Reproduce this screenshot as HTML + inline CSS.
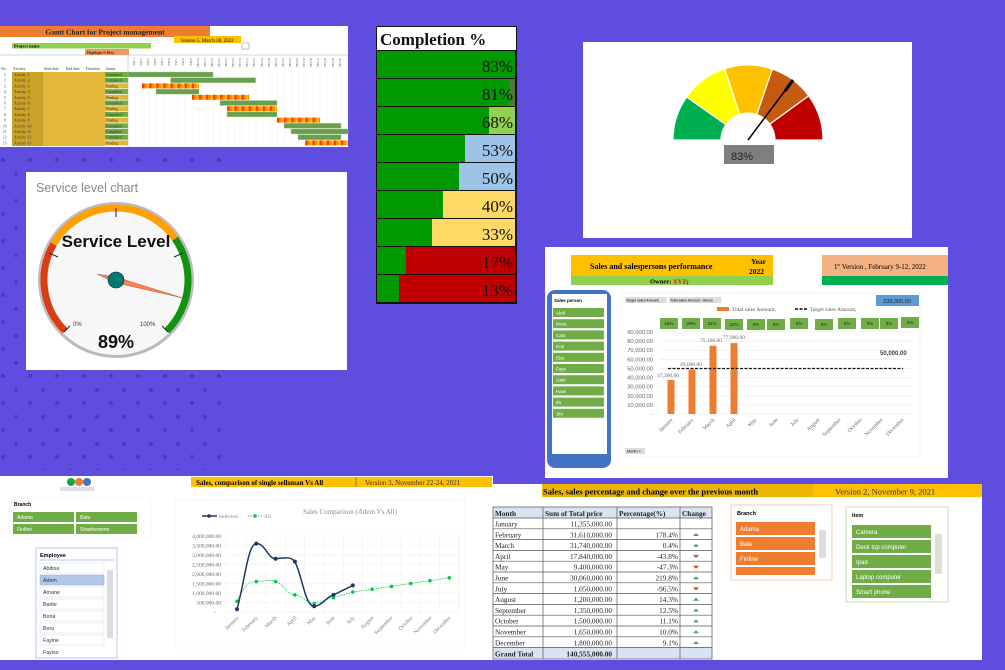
<!DOCTYPE html>
<html><head><meta charset="utf-8"><style>
html,body{margin:0;padding:0;background:#5f4de0;}
svg{display:block;font-family:"Liberation Sans",sans-serif;}
.s{font-family:"Liberation Serif",serif;}
</style></head><body>
<svg width="1005" height="670" viewBox="0 0 1005 670" xmlns="http://www.w3.org/2000/svg">
<defs>
<pattern id="dots" x="0" y="0" width="27" height="27" patternUnits="userSpaceOnUse">
<circle cx="16" cy="12" r="2.2" fill="#4a3bc4"/><circle cx="3" cy="25" r="2.2" fill="#4a3bc4"/>
</pattern>
<pattern id="stripe" x="0" y="0" width="7.1" height="5" patternUnits="userSpaceOnUse">
<rect width="7.1" height="5" fill="#ff3b00"/><rect x="2.4" width="2.4" height="5" fill="#ff8c00"/><rect x="4.8" width="2.3" height="5" fill="#ffc000"/>
</pattern>
<pattern id="gcol" x="128" y="0" width="7.1" height="10" patternUnits="userSpaceOnUse">
<line x1="0" y1="0" x2="0" y2="10" stroke="#e4e4e4" stroke-width="0.5"/>
</pattern>
</defs>
<rect width="1005" height="670" fill="#5f4de0"/>
<rect x="0" y="150" width="230" height="320" fill="url(#dots)"/>

<!-- GANTT -->
<rect x="0" y="26" width="348" height="121" fill="#fff"/>
<rect x="0" y="26" width="210" height="11" fill="#ed7d31"/>
<text x="105" y="34.5" font-size="7.5" font-weight="bold" text-anchor="middle" class="s" fill="#222">Gantt Chart for Project management</text>
<rect x="174" y="36" width="67" height="7" fill="#ffc000"/>
<text x="207" y="42" font-size="5" text-anchor="middle" class="s">Version 5, March 28, 2022</text>
<rect x="242" y="43" width="7" height="6" fill="none" stroke="#999" stroke-width="0.6"/>
<rect x="12" y="43" width="139" height="5.5" fill="#92d050"/>
<text x="14" y="47.5" font-size="4.5" font-weight="bold" class="s">Project name</text>
<rect x="85" y="49" width="44" height="6" fill="#ed7d31" opacity="0.8"/>
<text x="87" y="54" font-size="4" class="s">Highlight      6-May</text>
<line x1="0" y1="55" x2="348" y2="55" stroke="#aaa" stroke-width="0.5"/>
<rect x="128" y="55" width="220" height="92" fill="url(#gcol)"/>
<g font-size="3.8" class="s" fill="#333">
<text x="1" y="70">No.</text><text x="13" y="70">Activity</text><text x="44" y="70">Start date</text><text x="66" y="70">End date</text><text x="86" y="70">Duration</text><text x="106" y="70">Status</text>
</g>
<g font-size="3" class="s" fill="#555">
<text transform="translate(133,58) rotate(90)">1-May</text><text transform="translate(140,58) rotate(90)">2-May</text><text transform="translate(147,58) rotate(90)">3-May</text><text transform="translate(154,58) rotate(90)">4-May</text><text transform="translate(161,58) rotate(90)">5-May</text><text transform="translate(168,58) rotate(90)">6-May</text><text transform="translate(175,58) rotate(90)">7-May</text><text transform="translate(182,58) rotate(90)">8-May</text><text transform="translate(190,58) rotate(90)">9-May</text><text transform="translate(197,58) rotate(90)">10-May</text><text transform="translate(204,58) rotate(90)">11-May</text><text transform="translate(211,58) rotate(90)">12-May</text><text transform="translate(218,58) rotate(90)">13-May</text><text transform="translate(225,58) rotate(90)">14-May</text><text transform="translate(232,58) rotate(90)">15-May</text><text transform="translate(239,58) rotate(90)">16-May</text><text transform="translate(246,58) rotate(90)">17-May</text><text transform="translate(253,58) rotate(90)">18-May</text><text transform="translate(261,58) rotate(90)">19-May</text><text transform="translate(268,58) rotate(90)">20-May</text><text transform="translate(275,58) rotate(90)">21-May</text><text transform="translate(282,58) rotate(90)">22-May</text><text transform="translate(289,58) rotate(90)">23-May</text><text transform="translate(296,58) rotate(90)">24-May</text><text transform="translate(303,58) rotate(90)">25-May</text><text transform="translate(310,58) rotate(90)">26-May</text><text transform="translate(317,58) rotate(90)">27-May</text><text transform="translate(324,58) rotate(90)">28-May</text><text transform="translate(332,58) rotate(90)">29-May</text><text transform="translate(339,58) rotate(90)">30-May</text>
</g>
<rect x="12" y="72" width="31" height="74" fill="#c9a227"/>
<rect x="43" y="72" width="62" height="74" fill="#e3b83a"/>
<g fill="#70ad47">
<rect x="105" y="72" width="23" height="5"/><rect x="105" y="77.7" width="23" height="5"/><rect x="105" y="89.1" width="23" height="5"/><rect x="105" y="100.5" width="23" height="5"/><rect x="105" y="111.9" width="23" height="5"/><rect x="105" y="123.3" width="23" height="5"/><rect x="105" y="129" width="23" height="5"/><rect x="105" y="134.7" width="23" height="5"/>
</g>
<g fill="#e3b83a">
<rect x="105" y="83.4" width="23" height="5"/><rect x="105" y="94.8" width="23" height="5"/><rect x="105" y="106.2" width="23" height="5"/><rect x="105" y="117.6" width="23" height="5"/><rect x="105" y="140.4" width="23" height="5"/>
</g>
<g font-size="3.6" class="s" fill="#333">
<text x="4" y="76">1</text><text x="4" y="81.7">2</text><text x="4" y="87.4">3</text><text x="4" y="93.1">4</text><text x="4" y="98.8">5</text><text x="4" y="104.5">6</text><text x="4" y="110.2">7</text><text x="4" y="115.9">8</text><text x="4" y="121.6">9</text><text x="3" y="127.3">10</text><text x="3" y="133">11</text><text x="3" y="138.7">12</text><text x="3" y="144.4">13</text>
<text x="14" y="76">Activity -1</text><text x="14" y="81.7">Activity -2</text><text x="14" y="87.4">Activity -3</text><text x="14" y="93.1">Activity -4</text><text x="14" y="98.8">Activity -5</text><text x="14" y="104.5">Activity -6</text><text x="14" y="110.2">Activity -7</text><text x="14" y="115.9">Activity -8</text><text x="14" y="121.6">Activity -9</text><text x="14" y="127.3">Activity -10</text><text x="14" y="133">Activity -11</text><text x="14" y="138.7">Activity -12</text><text x="14" y="144.4">Activity -13</text>
<text x="106" y="76">Completed</text><text x="106" y="81.7">Completed</text><text x="106" y="87.4">Pending</text><text x="106" y="93.1">Completed</text><text x="106" y="98.8">Pending</text><text x="106" y="104.5">Completed</text><text x="106" y="110.2">Pending</text><text x="106" y="115.9">Completed</text><text x="106" y="121.6">Pending</text><text x="106" y="127.3">Completed</text><text x="106" y="133">Completed</text><text x="106" y="138.7">Completed</text><text x="106" y="144.4">Pending</text>
</g>
<g fill="#6a9f4f" stroke="#a9d18e" stroke-width="0.4">
<rect x="128" y="72" width="85" height="5"/><rect x="170.6" y="77.7" width="85" height="5"/><rect x="156" y="89.1" width="43" height="5"/><rect x="220" y="100.5" width="57" height="5"/><rect x="227" y="111.9" width="50" height="5"/><rect x="284" y="123.3" width="57" height="5"/><rect x="291" y="129" width="57" height="5"/><rect x="298" y="134.7" width="43" height="5"/>
</g>
<g fill="url(#stripe)">
<rect x="142" y="83.4" width="57" height="5"/><rect x="192" y="94.8" width="57" height="5"/><rect x="227" y="106.2" width="50" height="5"/><rect x="277" y="117.6" width="43" height="5"/><rect x="305" y="140.4" width="43" height="5"/>
</g>
<line x1="128" y1="55" x2="128" y2="147" stroke="#aaa" stroke-width="0.5"/>

<!-- SERVICE LEVEL -->
<rect x="26" y="172" width="321" height="198" fill="#fff"/>
<text x="36" y="192" font-size="12.5" fill="#888">Service level chart</text>
<circle cx="116" cy="280" r="78" fill="#bbb"/>
<circle cx="116" cy="280" r="75" fill="#f7f7f7"/>
<g fill="none" stroke-width="7">
<path d="M65.1 330.9 A72 72 0 0 1 53.6 244" stroke="#dd3b12"/>
<path d="M53.6 244 A72 72 0 0 1 175 238.7" stroke="#ffa000"/>
<path d="M175 238.7 A72 72 0 0 1 166.9 330.9" stroke="#119311"/>
</g>
<g stroke="#222" stroke-width="1"><line x1="116" y1="208" x2="116" y2="217"/><line x1="49" y1="253" x2="58" y2="257"/><line x1="183" y1="253" x2="174" y2="257"/><line x1="64" y1="332" x2="70" y2="326"/><line x1="168" y1="332" x2="162" y2="326"/></g>
<text x="116" y="247" font-size="17" font-weight="bold" text-anchor="middle" fill="#111">Service Level</text>
<polygon points="97,274 116,277 183,298 116,283" fill="#ff7f50" stroke="#a0522d" stroke-width="0.4"/>
<circle cx="116" cy="280" r="8" fill="#007a6e" stroke="#024" stroke-width="0.6"/>
<text x="73" y="326" font-size="6" fill="#333">0%</text>
<text x="140" y="326" font-size="6" fill="#333">100%</text>
<text x="116" y="348" font-size="18" font-weight="bold" text-anchor="middle" fill="#111">89%</text>

<!-- COMPLETION -->
<rect x="376" y="26" width="141" height="278" fill="#111"/>
<rect x="377" y="27" width="139" height="23" fill="#fff"/>
<text x="380" y="45" font-size="17" font-weight="bold" class="s" fill="#111">Completion %</text>
<g>
<rect x="377" y="51" width="138" height="27" fill="#009900"/>
<rect x="377" y="79" width="138" height="27" fill="#009900"/><rect x="509" y="79" width="6" height="27" fill="#4e7a30"/>
<rect x="377" y="107" width="138" height="27" fill="#92d050"/><rect x="377" y="107" width="112" height="27" fill="#009900"/>
<rect x="377" y="135" width="138" height="27" fill="#9dc3e6"/><rect x="377" y="135" width="88" height="27" fill="#009900"/>
<rect x="377" y="163" width="138" height="27" fill="#9dc3e6"/><rect x="377" y="163" width="82" height="27" fill="#009900"/>
<rect x="377" y="191" width="138" height="27" fill="#ffd966"/><rect x="377" y="191" width="66" height="27" fill="#009900"/>
<rect x="377" y="219" width="138" height="27" fill="#ffd966"/><rect x="377" y="219" width="55" height="27" fill="#009900"/>
<rect x="377" y="247" width="138" height="27" fill="#c00000"/><rect x="377" y="247" width="29" height="27" fill="#009900"/>
<rect x="377" y="275" width="138" height="27" fill="#c00000"/><rect x="377" y="275" width="22" height="27" fill="#009900"/>
</g>
<g font-size="17" class="s" text-anchor="end" fill="#111">
<text x="513" y="72">83%</text><text x="513" y="100">81%</text><text x="513" y="128">68%</text><text x="513" y="156">53%</text><text x="513" y="184">50%</text><text x="513" y="212">40%</text><text x="513" y="240">33%</text><text x="513" y="268">17%</text><text x="513" y="296">13%</text>
</g>

<!-- SPEEDOMETER -->
<rect x="583" y="42" width="329" height="196" fill="#fff"/>
<g stroke="#fff" stroke-width="1.2">
<path d="M673 140 A75 75 0 0 1 686.6 97 L725.9 124.5 A27 27 0 0 0 721 140 Z" fill="#00b050"/>
<path d="M686.6 97 A75 75 0 0 1 724.8 68.7 L739.7 114.3 A27 27 0 0 0 725.9 124.5 Z" fill="#ffff00"/>
<path d="M724.8 68.7 A75 75 0 0 1 772.4 69.1 L756.8 114.5 A27 27 0 0 0 739.7 114.3 Z" fill="#ffc000"/>
<path d="M772.4 69.1 A75 75 0 0 1 808.7 95.9 L769.8 124.1 A27 27 0 0 0 756.8 114.5 Z" fill="#c55a11"/>
<path d="M808.7 95.9 A75 75 0 0 1 823 140 L775 140 A27 27 0 0 0 769.8 124.1 Z" fill="#c00000"/>
</g>
<line x1="748" y1="140" x2="793" y2="80" stroke="#000" stroke-width="1.5"/>
<line x1="785" y1="91" x2="793" y2="80" stroke="#000" stroke-width="3"/>
<rect x="724" y="145" width="50" height="19" fill="#7f7f7f"/>
<text x="731" y="160" font-size="11" fill="#222">83%</text>

<!-- SALES PERFORMANCE -->
<rect x="545" y="247" width="403" height="231" fill="#fff"/>
<rect x="571" y="255" width="202" height="21" fill="#ffc000"/>
<rect x="571" y="276" width="202" height="9" fill="#92d050"/>
<text x="590" y="269" font-size="8" font-weight="bold" class="s">Sales and salespersons performance</text>
<text x="751" y="264" font-size="7.5" font-weight="bold" class="s">Year</text>
<text x="749" y="274" font-size="7.5" font-weight="bold" class="s">2022</text>
<text x="650" y="283.5" font-size="6.5" font-weight="bold" class="s">Owner:  <tspan fill="#e00">XYZ</tspan>;</text>
<rect x="822" y="255" width="126" height="21" fill="#f4b183"/>
<rect x="822" y="276" width="126" height="9" fill="#00b050"/>
<text x="834" y="269" font-size="7" class="s">1<tspan font-size="4" dy="-3">st</tspan><tspan dy="3"> Version , February 9-12, 2022</tspan></text>
<rect x="547" y="290" width="64" height="178" rx="8" fill="#4472c4"/>
<rect x="552" y="294" width="55" height="160" fill="#fff"/>
<text x="554" y="302" font-size="4.5" font-weight="bold">Sales person</text>
<g fill="#70ad47">
<rect x="553" y="308" width="51" height="9"/><rect x="553" y="319.2" width="51" height="9"/><rect x="553" y="330.4" width="51" height="9"/><rect x="553" y="341.6" width="51" height="9"/><rect x="553" y="352.8" width="51" height="9"/><rect x="553" y="364" width="51" height="9"/><rect x="553" y="375.2" width="51" height="9"/><rect x="553" y="386.4" width="51" height="9"/><rect x="553" y="397.6" width="51" height="9"/><rect x="553" y="408.8" width="51" height="9"/>
</g>
<g font-size="4.5" fill="#fff">
<text x="556" y="314.5">Abdi</text><text x="556" y="325.7">Bona</text><text x="556" y="336.9">Cala</text><text x="556" y="348.1">Doti</text><text x="556" y="359.3">Eba</text><text x="556" y="370.5">Faye</text><text x="556" y="381.7">Gabi</text><text x="556" y="392.9">Hawi</text><text x="556" y="404.1">Ifa</text><text x="556" y="415.3">Jifu</text>
</g>
<rect x="622" y="293" width="298" height="164" fill="#fff" stroke="#eee" stroke-width="0.6"/>
<rect x="625" y="297" width="42" height="6" fill="#ddd"/><rect x="669" y="297" width="52" height="6" fill="#ddd"/>
<text x="626" y="301.5" font-size="3.6">Target sales Amount,</text><text x="670" y="301.5" font-size="3.6">Total sales Amount, Values</text>
<rect x="876" y="295" width="43" height="11" fill="#5b9bd5"/>
<text x="897" y="303" font-size="5.5" text-anchor="middle" fill="#222">239,300.00</text>
<rect x="717" y="307" width="12" height="4" fill="#ed7d31"/>
<text x="732" y="311" font-size="5.5" class="s" fill="#555">Total sales Amount,</text>
<line x1="795" y1="309" x2="808" y2="309" stroke="#000" stroke-width="1.5" stroke-dasharray="3,1.5"/>
<text x="810" y="311" font-size="5.5" class="s" fill="#555">Target sales Amount,</text>
<g fill="#70ad47">
<rect x="660" y="318" width="18" height="11"/><rect x="682" y="318" width="18" height="11"/><rect x="703" y="318" width="18" height="11"/><rect x="725" y="319" width="18" height="11"/><rect x="747" y="319" width="18" height="11"/><rect x="767" y="319" width="18" height="11"/><rect x="790" y="318" width="18" height="11"/><rect x="815" y="319" width="18" height="11"/><rect x="838" y="318" width="18" height="11"/><rect x="861" y="318" width="18" height="11"/><rect x="880" y="318" width="18" height="11"/><rect x="901" y="317" width="18" height="11"/>
</g>
<g font-size="4.5" text-anchor="middle" fill="#222">
<text x="669" y="325">16%</text><text x="691" y="325">20%</text><text x="712" y="325">31%</text><text x="734" y="326">33%</text><text x="756" y="326">0%</text><text x="776" y="326">0%</text><text x="799" y="325">0%</text><text x="824" y="326">0%</text><text x="847" y="325">0%</text><text x="870" y="325">0%</text><text x="889" y="325">0%</text><text x="910" y="324">0%</text>
</g>
<g stroke="#e6e6e6" stroke-width="0.5">
<line x1="660" y1="332" x2="912" y2="332"/><line x1="660" y1="341.1" x2="912" y2="341.1"/><line x1="660" y1="350.2" x2="912" y2="350.2"/><line x1="660" y1="359.3" x2="912" y2="359.3"/><line x1="660" y1="368.4" x2="912" y2="368.4"/><line x1="660" y1="377.5" x2="912" y2="377.5"/><line x1="660" y1="386.7" x2="912" y2="386.7"/><line x1="660" y1="395.8" x2="912" y2="395.8"/><line x1="660" y1="404.9" x2="912" y2="404.9"/><line x1="660" y1="414" x2="912" y2="414"/>
</g>
<g font-size="5.8" text-anchor="end" fill="#666">
<text x="653" y="334">90,000.00</text><text x="653" y="343.1">80,000.00</text><text x="653" y="352.2">70,000.00</text><text x="653" y="361.3">60,000.00</text><text x="653" y="370.4">50,000.00</text><text x="653" y="379.5">40,000.00</text><text x="653" y="388.7">30,000.00</text><text x="653" y="397.8">20,000.00</text><text x="653" y="406.9">10,000.00</text><text x="653" y="416">-</text>
</g>
<g fill="#ed7d31">
<rect x="667.5" y="380" width="7" height="34"/><rect x="688.5" y="369.4" width="7" height="44.6"/><rect x="709.5" y="345.7" width="7" height="68.3"/><rect x="730.5" y="343.1" width="7" height="70.9"/>
</g>
<line x1="668" y1="368.5" x2="903" y2="368.5" stroke="#111" stroke-width="1.2" stroke-dasharray="3,1.5"/>
<g font-size="5.5" fill="#666" class="s">
<text x="657" y="377">37,300.00</text><text x="680" y="366">49,000.00</text><text x="700" y="342">75,100.00</text><text x="723" y="339">77,900.00</text>
</g>
<text x="880" y="355" font-size="6" font-weight="bold" fill="#444">50,000.00</text>
<g font-size="5.5" fill="#666" class="s" text-anchor="end">
<text transform="translate(673,420) rotate(-45)">January</text><text transform="translate(694,420) rotate(-45)">February</text><text transform="translate(715,420) rotate(-45)">March</text><text transform="translate(736,420) rotate(-45)">April</text><text transform="translate(757,420) rotate(-45)">May</text><text transform="translate(778,420) rotate(-45)">June</text><text transform="translate(799,420) rotate(-45)">July</text><text transform="translate(820,420) rotate(-45)">August</text><text transform="translate(841,420) rotate(-45)">September</text><text transform="translate(862,420) rotate(-45)">October</text><text transform="translate(883,420) rotate(-45)">November</text><text transform="translate(904,420) rotate(-45)">December</text>
</g>
<rect x="625" y="448" width="20" height="6" fill="#ddd"/><text x="627" y="452.5" font-size="3.8">Month ×</text>

<!-- BOTTOM LEFT -->
<rect x="0" y="476" width="493" height="184" fill="#fff"/>
<rect x="191" y="477" width="301" height="10" fill="#ffc000"/>
<line x1="356" y1="477" x2="356" y2="487" stroke="#555" stroke-width="0.6"/>
<text x="196" y="485" font-size="7" font-weight="bold" class="s">Sales, comparison of single sellsman Vs All</text>
<text x="365" y="485" font-size="7" class="s" fill="#333">Version 3, November 22-24, 2021</text>
<circle cx="71" cy="482" r="4" fill="#1aa34a"/><circle cx="79" cy="482" r="4" fill="#ed7d31"/><circle cx="87" cy="482" r="4" fill="#4472c4"/>
<rect x="60" y="487" width="34" height="4" fill="#dde"/>
<rect x="10" y="498" width="141" height="40" fill="#fff" stroke="#eee" stroke-width="0.6"/>
<text x="14" y="506" font-size="5" font-weight="bold">Branch</text>
<g fill="#70ad47"><rect x="13" y="512" width="61" height="10"/><rect x="76" y="512" width="61" height="10"/><rect x="13" y="524" width="61" height="10"/><rect x="76" y="524" width="61" height="10"/></g>
<g font-size="5" fill="#fff"><text x="17" y="519">Adama</text><text x="80" y="519">Batu</text><text x="17" y="531">Finfine</text><text x="80" y="531">Shashemene</text></g>
<rect x="36" y="548" width="81" height="110" fill="#fff" stroke="#b4c7e7" stroke-width="1"/>
<text x="40" y="557" font-size="5.5" font-weight="bold">Employee</text>
<line x1="39" y1="560" x2="114" y2="560" stroke="#b4c7e7"/>
<g fill="#fff" stroke="#ddd" stroke-width="0.5"><rect x="40" y="563" width="64" height="10"/><rect x="40" y="587" width="64" height="10"/><rect x="40" y="599" width="64" height="10"/><rect x="40" y="611" width="64" height="10"/><rect x="40" y="623" width="64" height="10"/><rect x="40" y="635" width="64" height="10"/></g>
<rect x="40" y="575" width="64" height="10" fill="#b4c7e7" stroke="#8faadc" stroke-width="0.5"/>
<rect x="107" y="570" width="6" height="68" fill="#ddd"/>
<g font-size="5.3" fill="#333"><text x="43" y="570">Abdisa</text><text x="43" y="582">Adem</text><text x="43" y="594">Amane</text><text x="43" y="606">Barite</text><text x="43" y="618">Bona</text><text x="43" y="630">Boru</text><text x="43" y="642">Fayine</text><text x="43" y="654">Fayiso</text></g>
<rect x="175" y="500" width="290" height="148" fill="#fff" stroke="#eee" stroke-width="0.6"/>
<text x="303" y="514" font-size="7" class="s" fill="#888">Sales Comparison (Adem Vs All)</text>
<line x1="202" y1="516" x2="217" y2="516" stroke="#203864" stroke-width="1.5"/><circle cx="209" cy="516" r="1.8" fill="#203864"/>
<text x="219" y="518" font-size="5.5" class="s" fill="#888">Selected</text>
<line x1="248" y1="516" x2="262" y2="516" stroke="#00cc44" stroke-width="0.8" stroke-dasharray="1.5,1"/><circle cx="255" cy="516" r="1.8" fill="#00cc44"/>
<text x="264" y="518" font-size="5.5" class="s" fill="#888">All</text>
<g stroke="#ececec" stroke-width="0.5">
<line x1="226" y1="536" x2="459" y2="536"/><line x1="226" y1="545.5" x2="459" y2="545.5"/><line x1="226" y1="555" x2="459" y2="555"/><line x1="226" y1="564.5" x2="459" y2="564.5"/><line x1="226" y1="574" x2="459" y2="574"/><line x1="226" y1="583.5" x2="459" y2="583.5"/><line x1="226" y1="593" x2="459" y2="593"/><line x1="226" y1="602.5" x2="459" y2="602.5"/><line x1="226" y1="612" x2="459" y2="612"/>
<line x1="246.6" y1="536" x2="246.6" y2="612"/><line x1="266" y1="536" x2="266" y2="612"/><line x1="285.3" y1="536" x2="285.3" y2="612"/><line x1="304.6" y1="536" x2="304.6" y2="612"/><line x1="323.9" y1="536" x2="323.9" y2="612"/><line x1="343.2" y1="536" x2="343.2" y2="612"/><line x1="362.5" y1="536" x2="362.5" y2="612"/><line x1="381.8" y1="536" x2="381.8" y2="612"/><line x1="401.1" y1="536" x2="401.1" y2="612"/><line x1="420.4" y1="536" x2="420.4" y2="612"/><line x1="439.7" y1="536" x2="439.7" y2="612"/><line x1="226" y1="536" x2="226" y2="612"/><line x1="459" y1="536" x2="459" y2="612"/>
</g>
<g font-size="5.5" class="s" text-anchor="end" fill="#666">
<text x="221" y="538">4,000,000.00</text><text x="221" y="547.5">3,500,000.00</text><text x="221" y="557">3,000,000.00</text><text x="221" y="566.5">2,500,000.00</text><text x="221" y="576">2,000,000.00</text><text x="221" y="585.5">1,500,000.00</text><text x="221" y="595">1,000,000.00</text><text x="221" y="604.5">500,000.00</text><text x="216" y="614">-</text>
</g>
<path d="M237 601.2 C245 585 248 581.6 256.3 581.6 C265 581.6 268 579 275.6 581.6 C284 584 287 594.9 294.9 594.9 C303 596 307 603.5 314.2 603.5 C322 603 326 598 333.5 597.75 L352.8 592 L372.1 589.2 L391.4 586.4 L410.7 583.5 L430 580.7 L449.3 577.8" fill="none" stroke="#00cc44" stroke-width="0.8" stroke-dasharray="1.5,1"/>
<g fill="#00cc44"><circle cx="237" cy="601.2" r="1.8"/><circle cx="256.3" cy="581.6" r="1.8"/><circle cx="275.6" cy="581.6" r="1.8"/><circle cx="294.9" cy="594.9" r="1.8"/><circle cx="314.2" cy="603.5" r="1.8"/><circle cx="333.5" cy="597.75" r="1.8"/><circle cx="352.8" cy="592" r="1.8"/><circle cx="372.1" cy="589.2" r="1.8"/><circle cx="391.4" cy="586.4" r="1.8"/><circle cx="410.7" cy="583.5" r="1.8"/><circle cx="430" cy="580.7" r="1.8"/><circle cx="449.3" cy="577.8" r="1.8"/></g>
<path d="M237 609.2 C245 580 248 543.6 256.3 543.6 C265 543 268 558.8 275.6 558.8 C285 558 290 556 294.9 561.6 C302 575 305 606.3 314.2 606.3 C322 606 326 597 333.5 594.9 L352.8 585.4" fill="none" stroke="#203864" stroke-width="1.5"/>
<g fill="#203864"><circle cx="237" cy="609.2" r="2"/><circle cx="256.3" cy="543.6" r="2"/><circle cx="275.6" cy="558.8" r="2"/><circle cx="294.9" cy="561.6" r="2"/><circle cx="314.2" cy="606.3" r="2"/><circle cx="333.5" cy="594.9" r="2"/><circle cx="352.8" cy="585.4" r="2"/></g>
<g font-size="5.5" class="s" text-anchor="end" fill="#777">
<text transform="translate(239,618) rotate(-45)">January</text><text transform="translate(258,618) rotate(-45)">February</text><text transform="translate(277,618) rotate(-45)">March</text><text transform="translate(297,618) rotate(-45)">April</text><text transform="translate(316,618) rotate(-45)">May</text><text transform="translate(335,618) rotate(-45)">June</text><text transform="translate(355,618) rotate(-45)">July</text><text transform="translate(374,618) rotate(-45)">August</text><text transform="translate(393,618) rotate(-45)">September</text><text transform="translate(413,618) rotate(-45)">October</text><text transform="translate(432,618) rotate(-45)">November</text><text transform="translate(451,618) rotate(-45)">December</text>
</g>

<!-- BOTTOM RIGHT -->
<rect x="493" y="484" width="489" height="176" fill="#fff"/>
<rect x="542" y="484" width="440" height="13" fill="#ffc000"/>
<rect x="542" y="484" width="271" height="13" fill="#c9a000" opacity="0.35"/>
<text x="543" y="494.5" font-size="8.5" font-weight="bold" class="s">Sales, sales percentage and change over the previous month</text>
<text x="835" y="494.5" font-size="8.5" class="s" fill="#333">Version 2, November 9, 2021</text>
<g class="s" font-size="7.3" fill="#222">
<rect x="493" y="507" width="219" height="11" fill="#dae3f3"/>
<rect x="493" y="647" width="219" height="12" fill="#dae3f3"/>
<g stroke="#555" stroke-width="0.7" fill="none">
<rect x="493" y="507" width="219" height="152"/>
<line x1="543" y1="507" x2="543" y2="659"/><line x1="617" y1="507" x2="617" y2="659"/><line x1="680" y1="507" x2="680" y2="659"/>
<line x1="493" y1="518" x2="712" y2="518"/><line x1="493" y1="528.8" x2="712" y2="528.8"/><line x1="493" y1="539.6" x2="712" y2="539.6"/><line x1="493" y1="550.4" x2="712" y2="550.4"/><line x1="493" y1="561.2" x2="712" y2="561.2"/><line x1="493" y1="572" x2="712" y2="572"/><line x1="493" y1="582.8" x2="712" y2="582.8"/><line x1="493" y1="593.6" x2="712" y2="593.6"/><line x1="493" y1="604.4" x2="712" y2="604.4"/><line x1="493" y1="615.2" x2="712" y2="615.2"/><line x1="493" y1="626" x2="712" y2="626"/><line x1="493" y1="636.8" x2="712" y2="636.8"/><line x1="493" y1="647.6" x2="712" y2="647.6"/>
</g>
<g font-weight="bold"><text x="495" y="516">Month</text><text x="545" y="516">Sum of Total price</text><text x="619" y="516">Percentage(%)</text><text x="682" y="516">Change</text></g>
<text x="495" y="526.5">January</text><text x="495" y="537.3">February</text><text x="495" y="548.1">March</text><text x="495" y="558.9">April</text><text x="495" y="569.7">May</text><text x="495" y="580.5">June</text><text x="495" y="591.3">July</text><text x="495" y="602.1">August</text><text x="495" y="612.9">September</text><text x="495" y="623.7">October</text><text x="495" y="634.5">November</text><text x="495" y="645.3">December</text><text x="495" y="656.5" font-weight="bold">Grand Total</text>
<g text-anchor="end"><text x="612" y="526.5">11,355,000.00</text><text x="612" y="537.3">31,610,000.00</text><text x="612" y="548.1">31,740,000.00</text><text x="612" y="558.9">17,840,000.00</text><text x="612" y="569.7">9,400,000.00</text><text x="612" y="580.5">30,060,000.00</text><text x="612" y="591.3">1,050,000.00</text><text x="612" y="602.1">1,200,000.00</text><text x="612" y="612.9">1,350,000.00</text><text x="612" y="623.7">1,500,000.00</text><text x="612" y="634.5">1,650,000.00</text><text x="612" y="645.3">1,800,000.00</text><text x="612" y="656.5" font-weight="bold">140,555,000.00</text>
<text x="678" y="537.3">178.4%</text><text x="678" y="548.1">0.4%</text><text x="678" y="558.9">-43.8%</text><text x="678" y="569.7">-47.3%</text><text x="678" y="580.5">219.8%</text><text x="678" y="591.3">-96.5%</text><text x="678" y="602.1">14.3%</text><text x="678" y="612.9">12.5%</text><text x="678" y="623.7">11.1%</text><text x="678" y="634.5">10.0%</text><text x="678" y="645.3">9.1%</text></g>
</g>
<g fill="#4e9a7a"><path d="M693 536 L696 533 L699 536Z"/><path d="M693 546.8 L696 543.8 L699 546.8Z"/><path d="M693 579.2 L696 576.2 L699 579.2Z"/><path d="M693 600.8 L696 597.8 L699 600.8Z"/><path d="M693 611.6 L696 608.6 L699 611.6Z"/><path d="M693 622.4 L696 619.4 L699 622.4Z"/><path d="M693 633.2 L696 630.2 L699 633.2Z"/><path d="M693 644 L696 641 L699 644Z"/></g>
<g fill="#d0461e"><path d="M693 555 L696 558 L699 555Z"/><path d="M693 565.8 L696 568.8 L699 565.8Z"/><path d="M693 587.4 L696 590.4 L699 587.4Z"/></g>
<rect x="731" y="505" width="101" height="75" fill="#fff" stroke="#f8cbad" stroke-width="1"/>
<text x="737" y="515" font-size="5.5" font-weight="bold">Branch</text>
<g fill="#ed7d31"><rect x="736" y="522" width="79" height="13"/><rect x="736" y="537" width="79" height="13"/><rect x="736" y="552" width="79" height="13"/><rect x="736" y="567" width="79" height="8"/></g>
<g font-size="6" fill="#fff"><text x="740" y="531">Adama</text><text x="740" y="546">Batu</text><text x="740" y="561">Finfine</text></g>
<rect x="819" y="530" width="7" height="28" fill="#ddd"/>
<rect x="846" y="507" width="102" height="95" fill="#fff" stroke="#c5e0b4" stroke-width="1"/>
<text x="852" y="517" font-size="5.5" font-weight="bold">Item</text>
<g fill="#70ad47"><rect x="852" y="525" width="79" height="13"/><rect x="852" y="540" width="79" height="13"/><rect x="852" y="555" width="79" height="13"/><rect x="852" y="570" width="79" height="13"/><rect x="852" y="585" width="79" height="13"/></g>
<g font-size="6" fill="#fff"><text x="856" y="534">Camera</text><text x="856" y="549">Desk top computer</text><text x="856" y="564">Ipad</text><text x="856" y="579">Laptop computer</text><text x="856" y="594">Smart phone</text></g>
<rect x="935" y="534" width="7" height="40" fill="#ddd"/>
</svg>
</body></html>
